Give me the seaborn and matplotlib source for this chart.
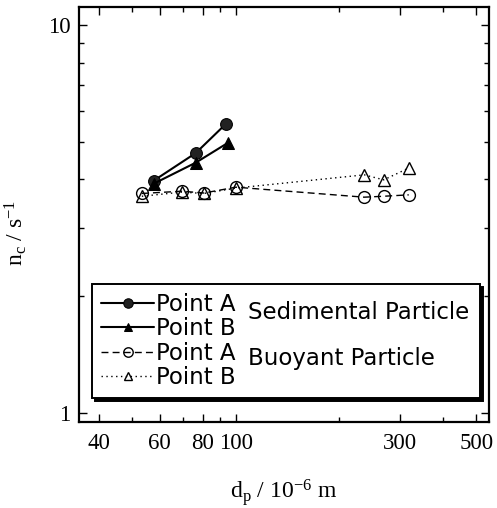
import numpy as np
import pandas as pd
import matplotlib
matplotlib.use("Agg")
import matplotlib.pyplot as plt
import seaborn as sns

# ---- data ----
sed_a_x = [57.7, 76.5, 93.5]
sed_a_y = [3.97, 4.68, 5.56]
sed_b_x = [57.7, 76.5, 94.8]
sed_b_y = [3.90, 4.42, 4.97]
buo_a_x = [53.3, 69.7, 80.7, 100.0, 236.0, 269.0, 318.0]
buo_a_y = [3.68, 3.73, 3.69, 3.82, 3.60, 3.62, 3.65]
buo_b_x = [53.3, 69.7, 80.7, 100.0, 236.0, 269.0, 318.0]
buo_b_y = [3.62, 3.71, 3.68, 3.80, 4.11, 3.99, 4.28]

legend_labels = ["Point A", "Point B", "Point A", "Point B"]
group_labels = ["Sedimental Particle", "Buoyant Particle"]
x_ticks = [40, 60, 80, 100, 300, 500]
x_minor = [50, 70, 90, 200, 400]
y_ticks = [1, 10]

sns.set_style("ticks")
plt.rcParams["font.family"] = ["Liberation Serif", "DejaVu Serif"]
plt.rcParams["mathtext.fontset"] = "stix"
plt.rcParams["text.color"] = "black"
plt.rcParams["axes.labelcolor"] = "black"

fig = plt.figure(figsize=(4.97, 5.08), dpi=100)
ax = fig.add_axes([79 / 497, 1 - 422 / 508, 410 / 497, 415 / 508])

sns.lineplot(x=sed_a_x, y=sed_a_y, ax=ax, color="black", lw=1.5,
             marker="o", markersize=8.5, markerfacecolor="#222222",
             markeredgecolor="black", label=legend_labels[0], estimator=None)
sns.lineplot(x=sed_b_x, y=sed_b_y, ax=ax, color="black", lw=1.5,
             marker="^", markersize=8, markerfacecolor="black",
             markeredgecolor="black", label=legend_labels[1], estimator=None)
sns.lineplot(x=buo_a_x, y=buo_a_y, ax=ax, color="black", lw=1.0,
             linestyle=(0, (5, 3)),
             marker="o", markersize=8.5, markerfacecolor="none",
             markeredgecolor="black", markeredgewidth=1.0,
             label=legend_labels[2], estimator=None)
sns.lineplot(x=buo_b_x, y=buo_b_y, ax=ax, color="black", lw=1.0,
             linestyle=(0, (1, 2.5)),
             marker="^", markersize=8, markerfacecolor="none",
             markeredgecolor="black", markeredgewidth=1.0,
             label=legend_labels[3], estimator=None)

ax.set_xscale("log")
ax.set_yscale("log")
ax.set_xlim(35, 544)
ax.set_ylim(0.948, 11.13)

ax.xaxis.set_major_locator(matplotlib.ticker.FixedLocator(x_ticks))
ax.xaxis.set_major_formatter(matplotlib.ticker.FixedFormatter([str(v) for v in x_ticks]))
ax.xaxis.set_minor_locator(matplotlib.ticker.FixedLocator(x_minor))
ax.xaxis.set_minor_formatter(matplotlib.ticker.NullFormatter())
ax.yaxis.set_major_locator(matplotlib.ticker.FixedLocator(y_ticks))
ax.yaxis.set_major_formatter(matplotlib.ticker.FixedFormatter([str(v) for v in y_ticks]))
ax.yaxis.set_minor_locator(matplotlib.ticker.LogLocator(base=10, subs=np.arange(2, 10)))
ax.yaxis.set_minor_formatter(matplotlib.ticker.NullFormatter())

ax.tick_params(which="both", direction="in", top=True, right=True,
               width=1.0, colors="black", labelsize=16.5)
ax.tick_params(which="major", length=6)
ax.tick_params(which="minor", length=3.5)
ax.tick_params(axis="x", which="major", pad=8)
ax.tick_params(axis="y", which="major", pad=6)
for s in ax.spines.values():
    s.set_linewidth(1.6)
    s.set_color("black")

ax.set_xlabel(r"$\mathregular{d_p}$ / $\mathregular{10^{-6}}$ m", fontsize=17)
ax.xaxis.set_label_coords(0.5, -0.132)
ax.set_ylabel(r"$\mathregular{n_c}$ / $\mathregular{s^{-1}}$", fontsize=17)
ax.yaxis.set_label_coords(-0.122, 0.455)

handles, labels = ax.get_legend_handles_labels()
leg = ax.legend(handles, labels, loc="lower left",
                bbox_to_anchor=(0.032, 0.058, 0.946, 0.289), mode="expand",
                borderaxespad=0, frameon=True, fancybox=False,
                shadow={"color": "black", "alpha": 1.0},
                prop={"family": "DejaVu Sans", "size": 16.5},
                handlelength=2.3, handletextpad=0.1, labelspacing=0.05,
                borderpad=0.4, markerscale=0.8)
leg.get_frame().set_edgecolor("black")
leg.get_frame().set_linewidth(1.4)

ax.text(0.412, 0.263, group_labels[0], transform=ax.transAxes,
        family="DejaVu Sans", fontsize=16.5, va="center", ha="left", zorder=10)
ax.text(0.412, 0.154, group_labels[1], transform=ax.transAxes,
        family="DejaVu Sans", fontsize=16.5, va="center", ha="left", zorder=10)

fig.savefig("out.png", dpi=100)
